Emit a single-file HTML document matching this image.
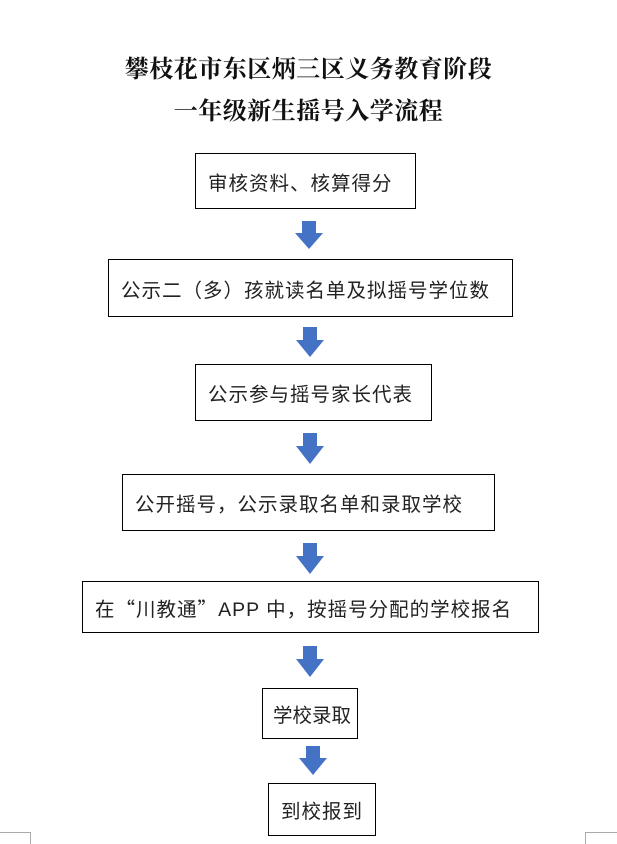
<!DOCTYPE html>
<html><head><meta charset="utf-8"><style>
body{margin:0;width:617px;height:844px;background:#fff;position:relative;overflow:hidden;font-family:"Liberation Serif","Noto Serif CJK SC","Noto Sans CJK SC",serif;}
.t{position:absolute;left:0;width:617px;text-align:center;font-weight:bold;font-size:24px;letter-spacing:0.5px;color:#111;}
.b{position:absolute;border:1.5px solid #000;box-sizing:border-box;font-family:"Liberation Sans","Noto Sans CJK SC",sans-serif;font-size:19.5px;color:#222;display:flex;align-items:center;padding-left:12px;white-space:nowrap;letter-spacing:1px;}
.q{font-family:"Noto Sans CJK SC",sans-serif;}
svg{position:absolute;left:0;top:0}
</style></head><body>
<div class="t" style="top:49px">攀枝花市东区炳三区义务教育阶段</div>
<div class="t" style="top:91px">一年级新生摇号入学流程</div>
<div class="b" style="left:195px;top:153px;width:221px;height:56px">审核资料、核算得分</div>
<div class="b" style="left:108px;top:259px;width:405px;height:58px">公示二（多）孩就读名单及拟摇号学位数</div>
<div class="b" style="left:195px;top:364px;width:237px;height:57px">公示参与摇号家长代表</div>
<div class="b" style="left:122px;top:474px;width:373px;height:57px">公开摇号，公示录取名单和录取学校</div>
<div class="b" style="left:82px;top:581px;width:457px;height:52px">在<span class="q">“</span>川教通<span class="q">”</span>APP 中，按摇号分配的学校报名</div>
<div class="b" style="left:262px;top:688px;width:96px;height:51px;padding-left:10px;letter-spacing:0">学校录取</div>
<div class="b" style="left:268px;top:783px;width:108px;height:53px">到校报到</div>
<svg width="617" height="844">
<g fill="#4472c4">
<polygon points="302,221 316,221 316,233 323,233 309,249 295,233 302,233"/>
<polygon points="303,327 317,327 317,340 324,340 310,357 296,340 303,340"/>
<polygon points="303,433 317,433 317,446 324,446 310,464 296,446 303,446"/>
<polygon points="303,543 317,543 317,556 324,556 310,574 296,556 303,556"/>
<polygon points="303,646 317,646 317,659 324,659 310,677 296,659 303,659"/>
<polygon points="306,746 320,746 320,758 327,758 313,775 299,758 306,758"/>
</g>
<g stroke="#aaa" stroke-width="1" fill="none">
<polyline points="0,832.5 30.5,832.5 30.5,844"/>
<polyline points="617,832.5 585.5,832.5 585.5,844"/>
</g>
</svg>
</body></html>
